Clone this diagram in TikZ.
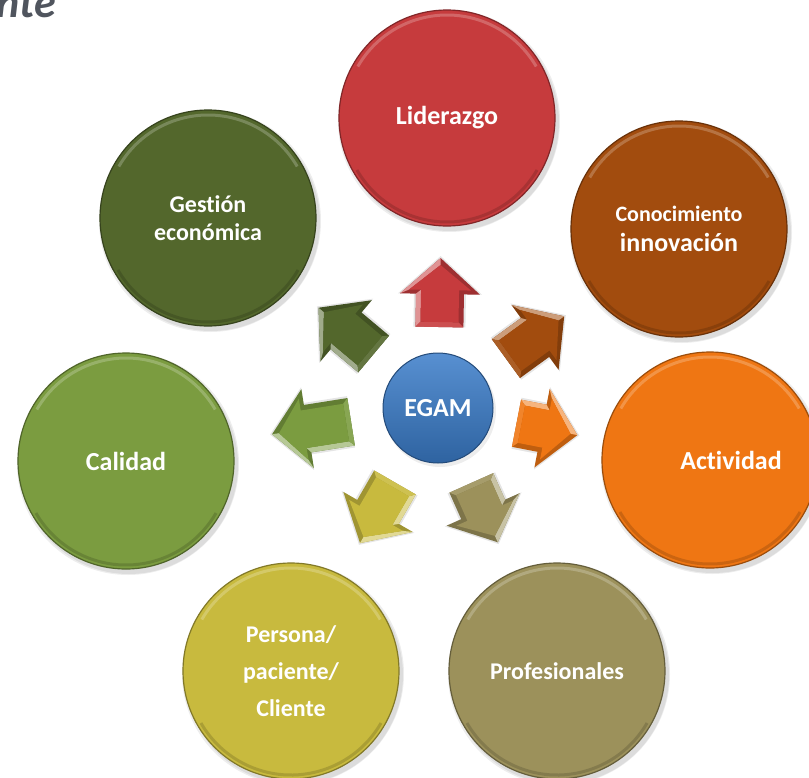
\documentclass[tikz,border=0pt]{standalone}
\usepackage{fontspec}
\setmainfont[Ligatures=NoCommon]{Carlito}
\definecolor{cLid}{HTML}{C63B3D}
\definecolor{cCon}{HTML}{A24C0E}
\definecolor{cAct}{HTML}{EF7613}
\definecolor{cPro}{HTML}{9C915B}
\definecolor{cPer}{HTML}{C8BA3E}
\definecolor{cCal}{HTML}{7B9C40}
\definecolor{cGes}{HTML}{53672C}
\definecolor{cEgam}{HTML}{3A7CC9}
\definecolor{cTitle}{HTML}{50555E}
\def\atail{84}\def\alen{71}
\tikzset{
  atail/.store in=\atail, alen/.store in=\alen,
  bigc/.style={circle, minimum size=216pt, inner sep=0pt, fill=#1, draw=#1!65!black,
    line width=1.2pt, text=white, align=center,
    font=\bfseries\fontsize{26}{30}\selectfont},
  lbl/.style={text=white, align=center, inner sep=0pt, font=\bfseries\fontsize{26}{30}\selectfont},
  pics/barrow/.style={code={
    \pgfmathsetmacro\aT{\atail}
    \pgfmathsetmacro\aB{\atail+\alen-36}
    \pgfmathsetmacro\aP{\atail+\alen}
    \fill[black, opacity=0.10] (\aT,-26) -- (\aB,-26) -- (\aB,-42) -- (\aP+2,0) -- (\aB,42) -- (\aB,26) -- (\aT,26) -- cycle;
    \fill[#1!80!black] (\aT,-24) -- (\aB,-24) -- (\aB,-40) -- (\aP,0) -- (\aB,40) -- (\aB,24) -- (\aT,24) -- cycle;
    \fill[#1!55!white] (\aT,-24) -- (\aB,-24) -- (\aB+4,-19) -- (\aT+5,-19) -- cycle;
    \fill[#1!55!white] (\aB,-40) -- (\aP,0) -- (\aP-7,0) -- (\aB+4,-31) -- cycle;
    \fill[#1!90!white] (\aT,-24) -- (\aT+5,-19) -- (\aT+5,19) -- (\aT,24) -- cycle;
    \fill[#1] (\aT+5,-19) -- (\aB+4,-19) -- (\aB+4,-31) -- (\aP-7,0) -- (\aB+4,31) -- (\aB+4,19) -- (\aT+5,19) -- cycle;
  }},
  shadowc/.style={fill=black, opacity=0.07},
  hil/.style={white, opacity=0.22, line width=3pt},
  lowl/.style={black, opacity=0.15, line width=3pt}
}
\newcommand{\bevelc}[1]{%
  \draw[hil] ([shift={(210:103)}]#1.center) arc[start angle=210, end angle=330, radius=103];
  \draw[lowl] ([shift={(30:104)}]#1.center) arc[start angle=30, end angle=150, radius=104];
}
\begin{document}
\begin{tikzpicture}[x=1pt, y=-1pt]
\useasboundingbox (0,0) rectangle (809,777);
\clip (0,0) rectangle (809,777);
\fill[white] (0,0) rectangle (809,777);

% title fragment
\node[anchor=base east, text=cTitle, inner sep=0pt,
      font=\bfseries\itshape\fontsize{44}{44}\selectfont] (ttl) at (56,17) {nte};

% shadows
\foreach \p in {(447,118),(679,229),(710,460),(557,671),(291,671),(126,461),(208,218)}{
  \fill[shadowc] \p ++(2,3) circle[radius=111];
  \fill[shadowc] \p ++(3,4) circle[radius=109];
}

% outer circles
\node[bigc=cLid] (lid) at (447,118) {Liderazgo};
\node[bigc=cCon] (con) at (679,229) {\fontsize{22}{26}\selectfont Conocimiento\\\fontsize{26}{26}\selectfont innovación};
\node[bigc=cAct, label={[lbl, xshift=21pt]center:Actividad}] (act) at (710,460) {};
\node[bigc=cPro, font=\bfseries\fontsize{24}{30}\selectfont] (pro) at (557,671) {Profesionales};
\node[bigc=cPer, font=\bfseries\fontsize{24}{37}\selectfont] (per) at (291,671) {Persona/\\paciente/\\Cliente};
\node[bigc=cCal] (cal) at (126,461) {Calidad};
\node[bigc=cGes, font=\bfseries\fontsize{24}{28}\selectfont] (ges) at (208,218) {Gestión\\económica};
\foreach \n in {lid,con,act,pro,per,cal,ges}{\bevelc{\n}}

% centre
\fill[shadowc] (440,411) circle[radius=56];
\node[circle, minimum size=110pt, inner sep=0pt, top color=cEgam!85!white, bottom color=cEgam!80!black,
      draw=cEgam!60!black, line width=1pt, text=white,
      font=\bfseries\fontsize{26}{30}\selectfont] (egam) at (438,408) {EGAM};

% arrows
\pic[rotate=89, atail=81, alen=69]  at (egam.center) {barrow=cLid};
\pic[rotate=36, atail=84, alen=72]  at (egam.center) {barrow=cCon};
\pic[rotate=-11, atail=80, alen=62] at (egam.center) {barrow=cAct};
\pic[rotate=-66, atail=82, alen=65] at (egam.center) {barrow=cPro};
\pic[rotate=240, atail=86, alen=70] at (egam.center) {barrow=cPer};
\pic[rotate=189, atail=88, alen=80] at (egam.center) {barrow=cCal};
\pic[rotate=140, atail=84, alen=72] at (egam.center) {barrow=cGes};
\end{tikzpicture}
\end{document}
